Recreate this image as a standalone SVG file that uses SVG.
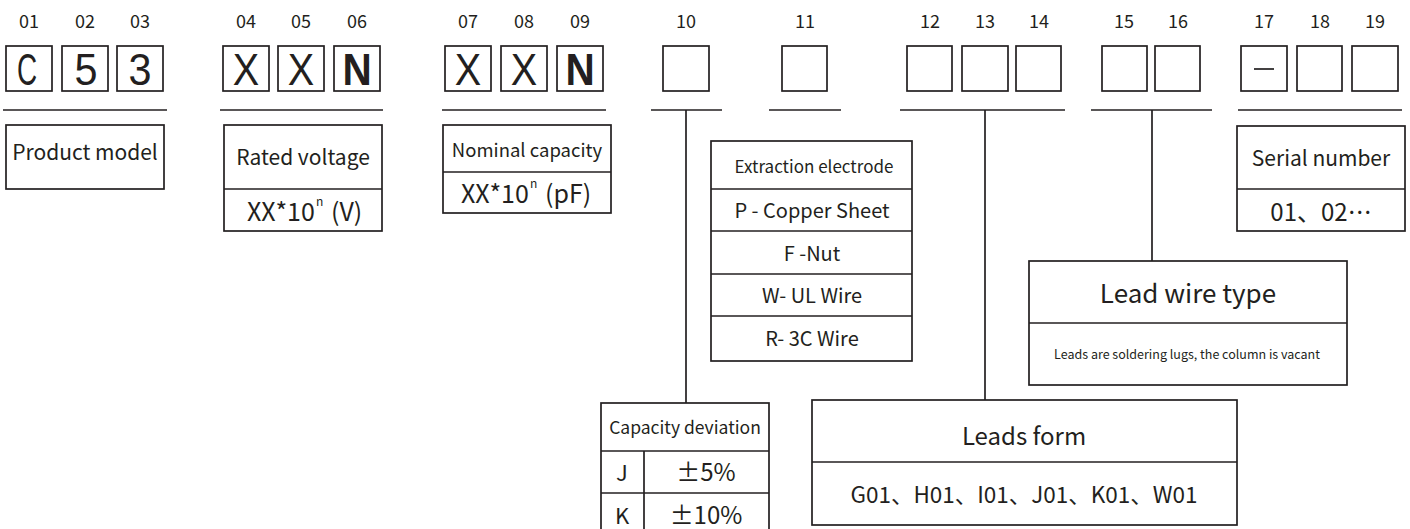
<svg xmlns="http://www.w3.org/2000/svg" width="1410" height="529" viewBox="0 0 1410 529">
<style>
  .bx{fill:none;stroke:#231f20;stroke-width:1.7}
  .ln{stroke:#231f20;stroke-width:1.7;fill:none}
  .t{font-family:"Noto Sans CJK SC","Noto Sans",sans-serif;fill:#231f20;text-anchor:middle}
  .s{font-family:"Noto Sans CJK SC","Noto Sans",sans-serif;fill:#231f20;text-anchor:start}
  .num{font-size:18px}
  .big{font-family:"Liberation Sans",Arial,sans-serif;font-size:45px;fill:#231f20;text-anchor:middle}
</style>
<rect x="0" y="0" width="1410" height="529" fill="#ffffff"/>

<g id="code-boxes">
  <g class="t num">
    <text x="29" y="28">01</text><text x="85" y="28">02</text><text x="140" y="28">03</text>
    <text x="246" y="28">04</text><text x="301" y="28">05</text><text x="357" y="28">06</text>
    <text x="468" y="28">07</text><text x="524" y="28">08</text><text x="580" y="28">09</text>
    <text x="686" y="28">10</text><text x="805" y="28">11</text>
    <text x="930" y="28">12</text><text x="985" y="28">13</text><text x="1039" y="28">14</text>
    <text x="1124" y="28">15</text><text x="1178" y="28">16</text>
    <text x="1264" y="28">17</text><text x="1320" y="28">18</text><text x="1375" y="28">19</text>
  </g>
  <rect class="bx" x="6" y="46" width="46" height="45"/>
  <rect class="bx" x="62" y="46" width="46" height="45"/>
  <rect class="bx" x="117" y="46" width="46" height="45"/>
  <rect class="bx" x="223" y="46" width="46" height="45"/>
  <rect class="bx" x="278" y="46" width="46" height="45"/>
  <rect class="bx" x="334" y="46" width="46" height="45"/>
  <rect class="bx" x="445" y="46" width="46" height="45"/>
  <rect class="bx" x="501" y="46" width="46" height="45"/>
  <rect class="bx" x="557" y="46" width="46" height="45"/>
  <rect class="bx" x="663" y="46" width="46" height="45"/>
  <rect class="bx" x="782" y="46" width="45" height="45"/>
  <rect class="bx" x="907" y="46" width="45" height="45"/>
  <rect class="bx" x="962" y="46" width="46" height="45"/>
  <rect class="bx" x="1016" y="46" width="45" height="45"/>
  <rect class="bx" x="1102" y="46" width="45" height="45"/>
  <rect class="bx" x="1155" y="46" width="45" height="45"/>
  <rect class="bx" x="1241" y="46" width="46" height="45"/>
  <rect class="bx" x="1297" y="46" width="45" height="45"/>
  <rect class="bx" x="1352" y="46" width="46" height="45"/>
  <text class="big" transform="translate(27,85) scale(0.62,1)">C</text>
  <text class="big" transform="translate(86,85) scale(0.92,1)">5</text>
  <text class="big" transform="translate(140,85) scale(0.92,1)">3</text>
  <text class="big" transform="translate(246,85) scale(0.88,1)">X</text>
  <text class="big" transform="translate(301,85) scale(0.88,1)">X</text>
  <text class="big" transform="translate(357,85) scale(0.9,1)" font-weight="bold">N</text>
  <text class="big" transform="translate(468,85) scale(0.88,1)">X</text>
  <text class="big" transform="translate(524,85) scale(0.88,1)">X</text>
  <text class="big" transform="translate(580,85) scale(0.9,1)" font-weight="bold">N</text>
  <line class="ln" x1="1254" y1="69" x2="1274" y2="69" stroke-width="2.2"/>
</g>

<g id="connectors">
  <line class="ln" x1="3" y1="110" x2="167" y2="110"/>
  <line class="ln" x1="220" y1="110" x2="383" y2="110"/>
  <line class="ln" x1="442" y1="110" x2="606" y2="110"/>
  <line class="ln" x1="651" y1="110" x2="722" y2="110"/>
  <line class="ln" x1="769" y1="110" x2="841" y2="110"/>
  <line class="ln" x1="900" y1="110" x2="1065" y2="110"/>
  <line class="ln" x1="1091" y1="110" x2="1212" y2="110"/>
  <line class="ln" x1="1238" y1="110" x2="1402" y2="110"/>
  <line class="ln" x1="686" y1="110" x2="686" y2="403"/>
  <line class="ln" x1="985" y1="110" x2="985" y2="400"/>
  <line class="ln" x1="1152" y1="110" x2="1152" y2="261"/>
</g>

<g id="product-model">
  <rect class="bx" x="6" y="125" width="158" height="64"/>
  <text class="t" x="85" y="160" font-size="21">Product model</text>
</g>

<g id="rated-voltage">
  <rect class="bx" x="224" y="125" width="158" height="106"/>
  <line class="ln" x1="224" y1="189" x2="382" y2="189"/>
  <text class="t" x="303" y="165" font-size="21">Rated voltage</text>
  <text class="s" y="221" font-size="25"><tspan x="247">XX*10</tspan><tspan x="316" y="206" font-size="12">n</tspan><tspan x="331" y="221">(V)</tspan></text>
</g>

<g id="nominal-capacity">
  <rect class="bx" x="443" y="125" width="168" height="88"/>
  <line class="ln" x1="443" y1="172" x2="611" y2="172"/>
  <text class="t" x="527" y="157" font-size="18.5">Nominal capacity</text>
  <text class="s" y="203" font-size="25"><tspan x="461">XX*10</tspan><tspan x="530" y="188" font-size="12">n</tspan><tspan x="545" y="203">(pF)</tspan></text>
</g>

<g id="extraction-electrode">
  <rect class="bx" x="711" y="141" width="201" height="220"/>
  <line class="ln" x1="711" y1="189" x2="912" y2="189"/>
  <line class="ln" x1="711" y1="231" x2="912" y2="231"/>
  <line class="ln" x1="711" y1="274" x2="912" y2="274"/>
  <line class="ln" x1="711" y1="316" x2="912" y2="316"/>
  <text class="t" x="814" y="173" font-size="17">Extraction electrode</text>
  <text class="t" x="812" y="218" font-size="20">P - Copper Sheet</text>
  <text class="t" x="812" y="261" font-size="20">F -Nut</text>
  <text class="t" x="812" y="303" font-size="20">W- UL Wire</text>
  <text class="t" x="812" y="346" font-size="20">R- 3C Wire</text>
</g>

<g id="capacity-deviation">
  <rect class="bx" x="601" y="403" width="168" height="140"/>
  <line class="ln" x1="601" y1="451" x2="769" y2="451"/>
  <line class="ln" x1="601" y1="493" x2="769" y2="493"/>
  <line class="ln" x1="644" y1="451" x2="644" y2="543"/>
  <text class="t" x="685" y="434" font-size="17.5">Capacity deviation</text>
  <text class="t" x="622" y="481" font-size="22">J</text>
  <text class="t" x="706" y="481" font-size="24">±5%</text>
  <text class="t" x="622" y="524" font-size="22">K</text>
  <text class="t" x="706" y="524" font-size="24">±10%</text>
</g>

<g id="leads-form">
  <rect class="bx" x="812" y="400" width="425" height="125"/>
  <line class="ln" x1="812" y1="462" x2="1237" y2="462"/>
  <text class="t" x="1024" y="445" font-size="24">Leads form</text>
  <text class="t" x="1024" y="503" font-size="22.5">G01、H01、I01、J01、K01、W01</text>
</g>

<g id="lead-wire-type">
  <rect class="bx" x="1029" y="261" width="318" height="124"/>
  <line class="ln" x1="1029" y1="323" x2="1347" y2="323"/>
  <text class="t" x="1188" y="303" font-size="26">Lead wire type</text>
  <text class="t" x="1187" y="359" font-size="12.5">Leads are soldering lugs, the column is vacant</text>
</g>

<g id="serial-number">
  <rect class="bx" x="1237" y="126" width="168" height="105"/>
  <line class="ln" x1="1237" y1="189" x2="1405" y2="189"/>
  <text class="t" x="1321" y="166" font-size="21">Serial number</text>
  <text class="t" x="1321" y="221" font-size="24">01、02…</text>
</g>
</svg>
